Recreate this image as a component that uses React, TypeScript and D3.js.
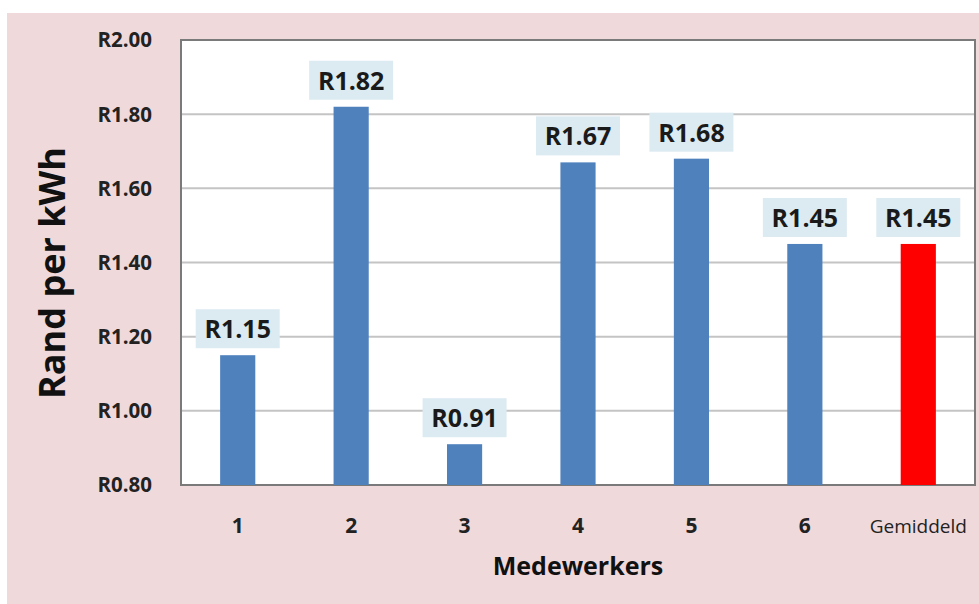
import * as d3 from "d3";

const categories = ["1", "2", "3", "4", "5", "6", "Gemiddeld"];
const values = [1.15, 1.82, 0.91, 1.67, 1.68, 1.45, 1.45];
const barColors = ["#4f81bd", "#4f81bd", "#4f81bd", "#4f81bd", "#4f81bd", "#4f81bd", "#ff0000"];
const yTicks = [0.8, 1.0, 1.2, 1.4, 1.6, 1.8, 2.0];

const WIDTH = 979;
const HEIGHT = 604;
const MARGIN = { top: 40, right: 4, bottom: 119, left: 181 };
const FONT = "'Open Sans', Lato, sans-serif";

export default function App() {
  const boundsWidth = WIDTH - MARGIN.left - MARGIN.right;
  const boundsHeight = HEIGHT - MARGIN.top - MARGIN.bottom;

  const xScale = d3
    .scaleBand()
    .domain(categories)
    .range([0, boundsWidth])
    .paddingInner(0.69)
    .paddingOuter(0.345);

  const yScale = d3.scaleLinear().domain([0.8, 2.0]).range([boundsHeight, 0]);
  const fmt = (v: number) => "R" + d3.format(".2f")(v);

  return (
    <svg
      width={WIDTH}
      height={HEIGHT}
      style={{ position: "absolute", left: 0, top: 0, background: "#ffffff" }}
    >
      <rect x={7} y={13} width={WIDTH - 7} height={HEIGHT - 13} fill="#efd9db" />
      <g transform={`translate(${MARGIN.left},${MARGIN.top})`}>
        <rect x={0} y={0} width={boundsWidth} height={boundsHeight} fill="#ffffff" />
        {yTicks.map((t) => (
          <g key={t}>
            {t > 0.8 && t < 2.0 && (
              <line x1={0} x2={boundsWidth} y1={yScale(t)} y2={yScale(t)} stroke="#c4c4c4" strokeWidth={2} />
            )}
            <text
              x={-29}
              y={yScale(t)}
              dy="0.36em"
              textAnchor="end"
              fontFamily={FONT}
              fontWeight="bold"
              fontSize={20.5}
              fill="#222"
            >
              {fmt(t)}
            </text>
          </g>
        ))}
        <rect x={0} y={0} width={boundsWidth} height={boundsHeight} fill="none" stroke="#7a7a7a" strokeWidth={2} />

        {categories.map((c, i) => {
          const x = xScale(c) ?? 0;
          const cx = x + xScale.bandwidth() / 2;
          const y = yScale(values[i]);
          return (
            <g key={c}>
              <rect
                x={x}
                y={y}
                width={xScale.bandwidth()}
                height={boundsHeight - y}
                fill={barColors[i]}
              />
              <rect x={cx - 42} y={y - 46} width={84} height={39} fill="#dcebf1" />
              <text
                x={cx}
                y={y - 17}
                textAnchor="middle"
                fontFamily={FONT}
                fontWeight="bold"
                fontSize={25}
                fill="#1a1a1a"
              >
                {fmt(values[i])}
              </text>
              <text
                x={cx}
                y={boundsHeight + 48}
                textAnchor="middle"
                fontFamily={FONT}
                fontWeight={c === "Gemiddeld" ? "normal" : "bold"}
                fontSize={c === "Gemiddeld" ? 19 : 21}
                fill="#222"
              >
                {c}
              </text>
            </g>
          );
        })}

        <text
          x={boundsWidth / 2}
          y={boundsHeight + 90}
          textAnchor="middle"
          fontFamily={FONT}
          fontWeight="bold"
          fontSize={25}
          fill="#111"
        >
          Medewerkers
        </text>
      </g>
      <text
        transform={`translate(65,273) rotate(-90)`}
        textAnchor="middle"
        fontFamily={FONT}
        fontWeight="bold"
        fontSize={36}
        fill="#111"
      >
        Rand per kWh
      </text>
    </svg>
  );
}
